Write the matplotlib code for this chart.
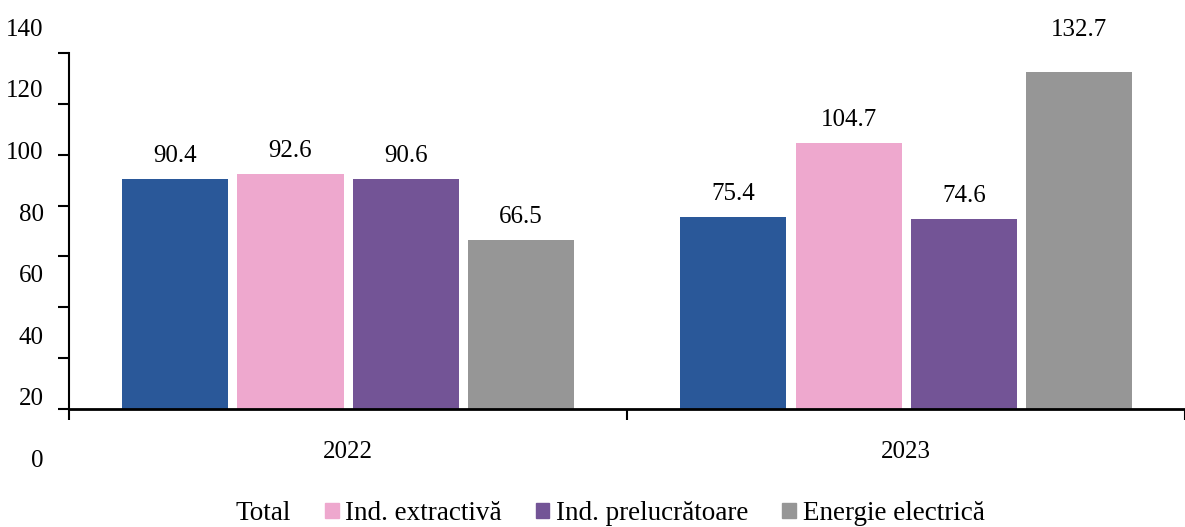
import numpy as np
import matplotlib
matplotlib.use("Agg")
import matplotlib.pyplot as plt
import matplotlib.patches as mpatches

# ---------- Data ----------
years = ["2022", "2023"]
series_names = ["Total", "Ind. extractivă", "Ind. prelucrătoare", "Energie electrică"]
total = [90.4, 75.4]
extractiva = [92.6, 104.7]
prelucratoare = [90.6, 74.6]
energie = [66.5, 132.7]
y_ticks = [0, 20, 40, 60, 80, 100, 120, 140]

colors = ["#2A5899", "#EEA8CE", "#735496", "#969696"]

plt.rcParams['font.family'] = ['Liberation Serif', 'DejaVu Serif']
plt.rcParams['font.size'] = 18

fig = plt.figure(figsize=(11.85, 5.27), dpi=100)
ax = fig.add_axes([0.0582, 0.2239, 0.9418, 0.6755])

x = np.arange(len(years))
width = 0.19
offsets = [-0.31, -0.103, 0.104, 0.31]
all_series = [total, extractiva, prelucratoare, energie]
top_val = max(max(s) for s in all_series)

for vals, off, col, name in zip(all_series, offsets, colors, series_names):
    bars = ax.bar(x + off, vals, width, color=col, label=name, zorder=2)
    for b, v in zip(bars, vals):
        # the tallest label sits higher (Excel pushed it up)
        dy = 42 if v == top_val else 23
        ax.annotate(f"{v:.1f}", (b.get_x() + b.get_width() / 2, v),
                    xytext=(0, dy), textcoords="offset pixels",
                    ha="center", va="center", fontsize=18, clip_on=False)

ax.set_ylim(0, 140)
ax.set_xlim(-0.5, 1.482)

# y ticks: marks on the axis, labels spread out independently (as in the original)
ax.set_yticks(y_ticks)
ax.set_yticklabels([])
ax.tick_params(axis="y", direction="out", length=8, width=1.5)
for v in y_ticks:
    ax.text(-0.545, v * 1.211 - 20.4, str(v), ha="right", va="center",
            fontsize=18, transform=ax.transData, clip_on=False)

# x ticks at category borders, labels centred on groups
ax.set_xticks([-0.5, 0.5, 1.5])
ax.set_xticklabels([])
ax.tick_params(axis="x", direction="out", length=8, width=1.5)
for xi, yr in zip(x, years):
    ax.text(xi, -17, yr, ha="center", va="center", fontsize=18, clip_on=False)

for s in ["top", "right"]:
    ax.spines[s].set_visible(False)
ax.spines["left"].set_linewidth(1.5)
ax.spines["bottom"].set_linewidth(2)

handles = [mpatches.Patch(color="none", label=series_names[0])]
handles += [mpatches.Patch(color=c, label=n) for c, n in zip(colors[1:], series_names[1:])]
fig.legend(handles=handles, loc="lower center", ncol=4, frameon=False,
           bbox_to_anchor=(0.5064, -0.045), handlelength=0.5, handleheight=0.5,
           handletextpad=0.25, columnspacing=1.25, fontsize=19.5)

plt.savefig("out.png", dpi=100)
